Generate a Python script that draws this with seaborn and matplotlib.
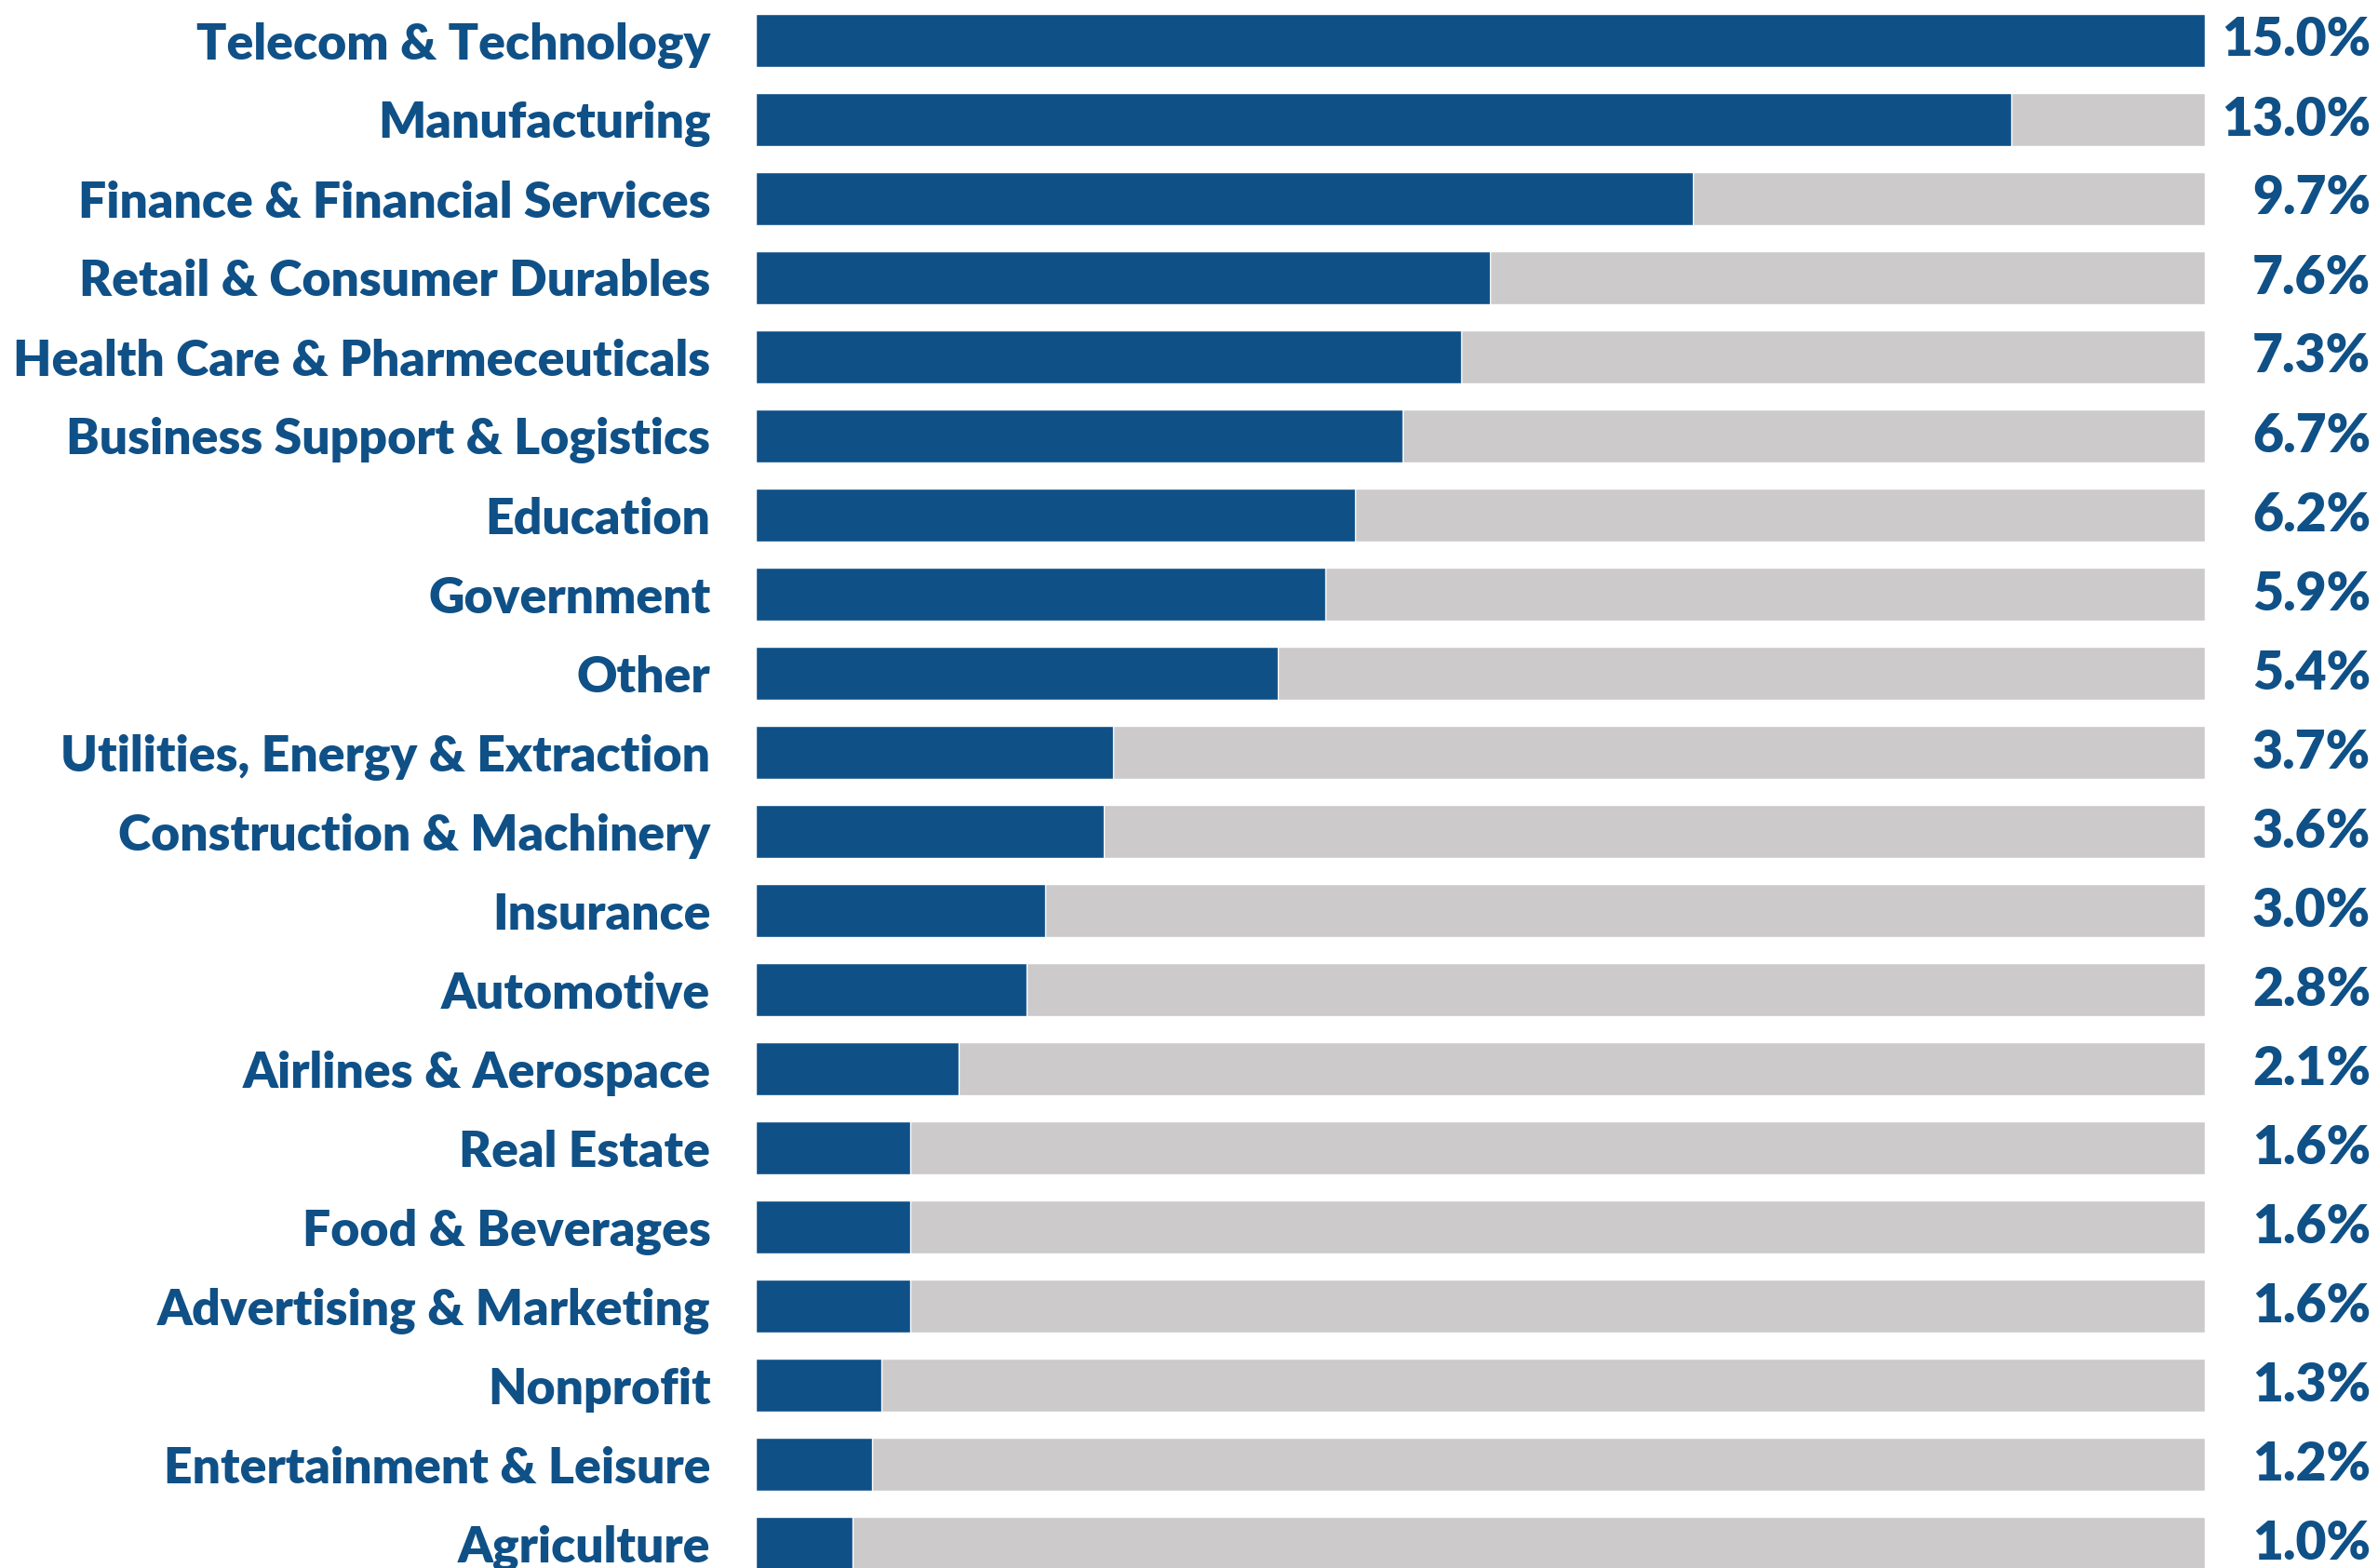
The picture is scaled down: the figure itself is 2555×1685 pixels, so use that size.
import matplotlib
matplotlib.use("Agg")
import matplotlib.pyplot as plt
import seaborn as sns
import pandas as pd

industries = [
    "Telecom & Technology", "Manufacturing", "Finance & Financial Services",
    "Retail & Consumer Durables", "Health Care & Pharmeceuticals",
    "Business Support & Logistics", "Education", "Government", "Other",
    "Utilities, Energy & Extraction", "Construction & Machinery", "Insurance",
    "Automotive", "Airlines & Aerospace", "Real Estate", "Food & Beverages",
    "Advertising & Marketing", "Nonprofit", "Entertainment & Leisure", "Agriculture",
]
shares = [15.0, 13.0, 9.7, 7.6, 7.3, 6.7, 6.2, 5.9, 5.4, 3.7,
          3.6, 3.0, 2.8, 2.1, 1.6, 1.6, 1.6, 1.3, 1.2, 1.0]
scale_max = 15.0

BLUE = "#0f5087"
GRAY = "#cccaca"

df = pd.DataFrame({"industry": industries, "share": shares,
                   "full": [scale_max] * len(industries)})

sns.set_style("white")
plt.rcParams["font.family"] = ["Lato", "DejaVu Sans"]

fig = plt.figure(figsize=(25.55, 16.85), dpi=100)
ax = fig.add_axes([812 / 2555, 0, (2369 - 812) / 2555, 1])

# grey track for the full scale, blue share on top
sns.barplot(data=df, x="full", y="industry", color=GRAY, width=0.67,
            saturation=1, ax=ax)
sns.barplot(data=df, x="share", y="industry", color=BLUE, width=0.67,
            saturation=1, ax=ax)

ax.set_xlim(0, scale_max)
ax.set_ylim(19 + (1685 - 1658.5) / 85, -43.5 / 85)
ax.set_xlabel("")
ax.set_ylabel("")
ax.set_xticks([])
ax.tick_params(axis="y", length=0, pad=35)
for lbl in ax.get_yticklabels():
    lbl.set_fontsize(38.5)
    lbl.set_fontweight("heavy")
    lbl.set_color(BLUE)
sns.despine(ax=ax, left=True, bottom=True)

x_right = (2547 - 812) / (2369 - 812)
for i, v in enumerate(shares):
    ax.text(x_right, i, f"{v:.1f}%", transform=ax.get_yaxis_transform(),
            ha="right", va="center", fontsize=41, fontweight="heavy",
            color=BLUE, clip_on=False)

fig.savefig("out.png", dpi=100)
